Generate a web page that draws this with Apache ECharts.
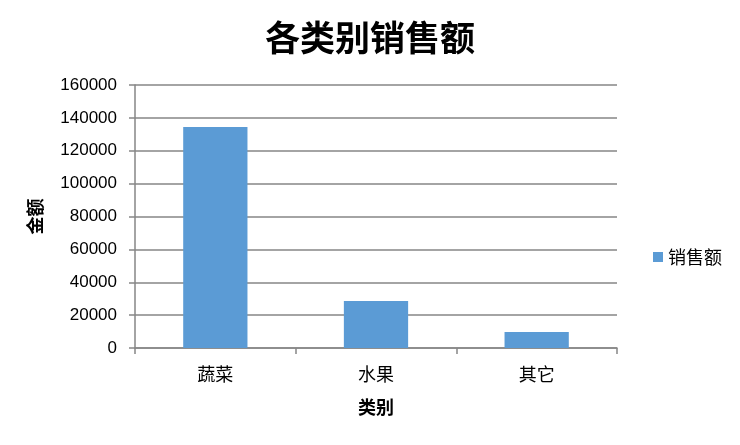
<!DOCTYPE html>
<html>
<head>
<meta charset="utf-8">
<script src="https://cdn.jsdelivr.net/npm/echarts@6/dist/echarts.min.js"></script>
<style>
  html, body { margin: 0; padding: 0; background: #fff; }
  #main { width: 740px; height: 445px; }
</style>
</head>
<body>
<div id="main"></div>
<script>
var categories = ['蔬菜', '水果', '其它'];
var salesValues = [134500, 28600, 9700];
var seriesName = '销售额';

var font = '"Noto Sans CJK SC", "Liberation Sans", sans-serif';
var axisColor = '#868686';

var myChart = echarts.init(document.getElementById('main'));

myChart.setOption({
    backgroundColor: '#fff',
    title: {
        text: '各类别销售额',
        left: 'center',
        top: 15,
        textStyle: { fontSize: 35, fontWeight: 'bold', color: '#000', fontFamily: font }
    },
    legend: {
        data: [seriesName],
        orient: 'vertical',
        left: 648,
        top: 243,
        itemWidth: 10,
        itemHeight: 10,
        itemGap: 6,
        icon: 'rect',
        textStyle: { fontSize: 18, color: '#000', fontFamily: font }
    },
    grid: {
        left: 135,
        top: 85,
        width: 482,
        height: 263
    },
    xAxis: {
        type: 'category',
        data: categories,
        name: '类别',
        nameLocation: 'middle',
        nameGap: 50,
        nameTextStyle: { fontSize: 18, fontWeight: 'bold', color: '#000', fontFamily: font },
        axisLine: { lineStyle: { color: axisColor, width: 1.5 } },
        axisTick: { show: true, length: 6, lineStyle: { color: axisColor, width: 1.5 } },
        axisLabel: { fontSize: 18, color: '#000', margin: 17, fontFamily: font }
    },
    yAxis: {
        type: 'value',
        min: 0,
        max: 160000,
        interval: 20000,
        name: '金额',
        nameLocation: 'middle',
        nameGap: 91,
        nameRotate: 90,
        nameTextStyle: { fontSize: 18, fontWeight: 'bold', color: '#000', fontFamily: font },
        axisLine: { show: true, lineStyle: { color: axisColor, width: 1.5 } },
        axisTick: { show: true, length: 6, lineStyle: { color: axisColor, width: 1.5 } },
        splitLine: { lineStyle: { color: axisColor, width: 1.5 } },
        axisLabel: {
            fontSize: 17,
            color: '#000',
            margin: 18,
            fontFamily: '"Liberation Sans", sans-serif',
            formatter: function (v) { return String(v); }
        }
    },
    series: [{
        name: seriesName,
        type: 'bar',
        data: salesValues,
        barWidth: '40%',
        itemStyle: { color: '#5b9bd5' }
    }]
});
</script>
</body>
</html>
